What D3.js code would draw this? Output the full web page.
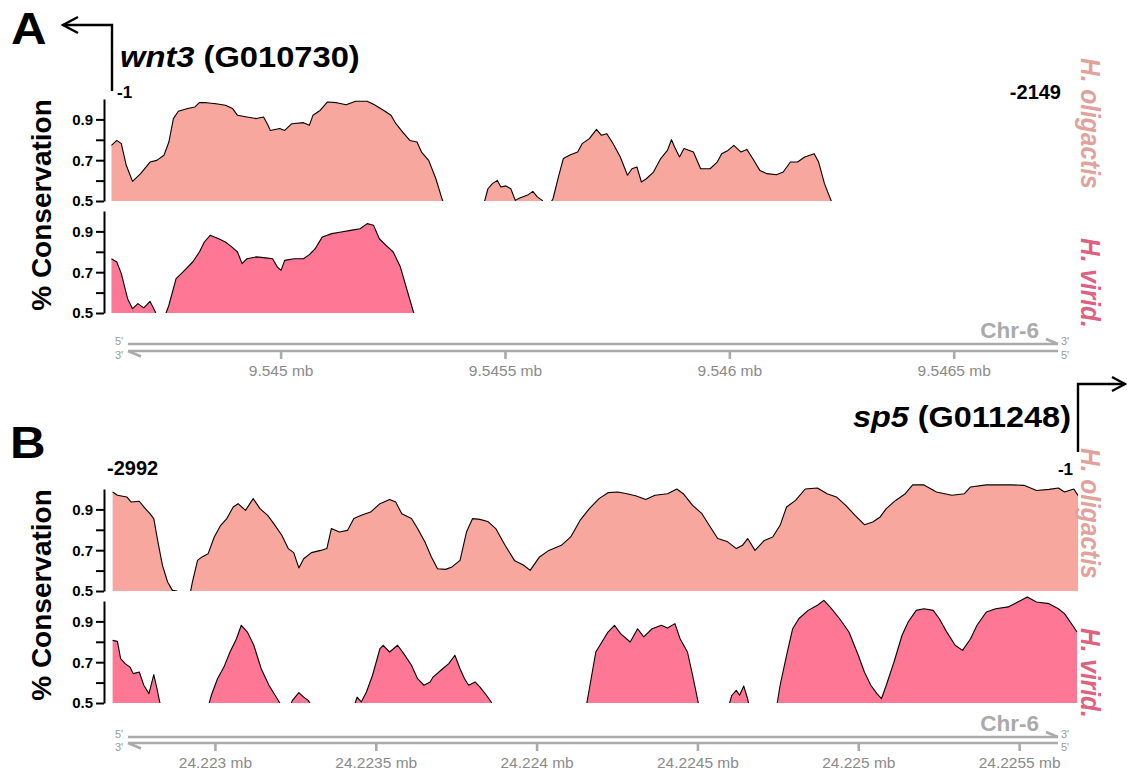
<!DOCTYPE html>
<html>
<head>
<meta charset="utf-8">
<script src="https://cdn.jsdelivr.net/npm/d3@7"></script>
<style>
  body { margin: 0; background: #fff; }
  svg { display: block; font-family: "Liberation Sans", Arial, Helvetica, sans-serif; }
</style>
</head>
<body>
<svg id="fig" width="1127" height="775"></svg>
<script>
// ---- wnt3 (G010730) window, Chr-6 (positions = bp offset from window start) ----
const wntWindowStart = 9544622;
const wntWindowSpan = 2155;
const wntTicks = [9545000, 9545500, 9546000, 9546500];
const wntTickLabels = ["9.545 mb", "9.5455 mb", "9.546 mb", "9.5465 mb"];

const wntOligPos = [1,13,23,34,48,66,87,102,118,129,139,150,171,187,197,213,234,255,271,282,303,324,340,350,355,376,387,403,429,442,450,466,482,503,524,545,571,587,608,624,635,650,666,682,692,708,724,737,743,829,840,850,861,869,880,891,901,911,930,940,950,961,966,977,985,998,1008,1024,1040,1050,1066,1082,1093,1105,1119,1135,1151,1161,1172,1182,1193,1209,1225,1240,1249,1256,1267,1277,1298,1314,1335,1351,1361,1375,1388,1404,1417,1430,1446,1462,1483,1498,1514,1530,1546,1567,1577,1590,1606,1609];
const wntOligVal = [0.773,0.797,0.781,0.675,0.596,0.634,0.691,0.699,0.724,0.789,0.904,0.94,0.953,0.961,0.982,0.982,0.977,0.969,0.953,0.92,0.912,0.904,0.912,0.871,0.846,0.855,0.846,0.879,0.884,0.871,0.92,0.944,0.985,0.982,0.972,0.989,0.989,0.972,0.944,0.92,0.879,0.838,0.797,0.789,0.74,0.699,0.609,0.515,0.479,0.47,0.56,0.585,0.601,0.569,0.574,0.56,0.503,0.515,0.531,0.547,0.52,0.503,0.48,0.48,0.511,0.626,0.708,0.727,0.74,0.781,0.806,0.851,0.822,0.83,0.781,0.716,0.626,0.658,0.667,0.593,0.609,0.642,0.708,0.748,0.80,0.765,0.716,0.757,0.74,0.658,0.658,0.691,0.732,0.748,0.773,0.74,0.753,0.708,0.65,0.634,0.629,0.642,0.691,0.691,0.716,0.732,0.691,0.585,0.495,0.47];

const wntViridPos = [1,13,23,37,48,60,73,87,97,102,121,129,145,160,182,197,208,221,240,255,269,282,292,303,324,345,360,371,379,387,408,429,442,455,471,492,513,534,555,571,585,598,613,629,645,661,674,678];
const wntViridVal = [0.766,0.75,0.693,0.57,0.521,0.546,0.525,0.557,0.513,0.49,0.49,0.538,0.668,0.70,0.75,0.799,0.848,0.881,0.864,0.848,0.824,0.799,0.742,0.766,0.775,0.77,0.766,0.725,0.709,0.758,0.766,0.766,0.786,0.815,0.873,0.889,0.897,0.905,0.913,0.938,0.93,0.864,0.832,0.799,0.725,0.603,0.505,0.48];

// ---- sp5 (G011248) window, Chr-6 ----
const sp5WindowStart = 24222677;
const sp5WindowSpan = 3006;
const sp5Ticks = [24223000, 24223500, 24224000, 24224500, 24225000, 24225500];
const sp5TickLabels = ["24.223 mb", "24.2235 mb", "24.224 mb", "24.2245 mb", "24.225 mb", "24.2255 mb"];

const sp5OligPos = [5,20,49,63,88,102,121,133,146,160,176,191,205,209,244,253,269,283,302,321,341,360,380,395,418,442,463,487,506,531,551,568,584,599,623,652,671,685,710,735,755,778,807,836,866,885,904,934,953,976,996,1015,1040,1060,1085,1105,1124,1147,1171,1196,1225,1254,1283,1303,1332,1361,1400,1429,1458,1487,1517,1545,1575,1604,1633,1662,1691,1730,1759,1779,1808,1837,1866,1886,1915,1944,1963,1979,2002,2031,2057,2080,2100,2128,2158,2196,2226,2255,2284,2313,2342,2368,2391,2410,2439,2469,2492,2527,2566,2614,2653,2672,2721,2799,2838,2877,2916,2945,2964,2993,3006];
const sp5OligVal = [0.985,0.969,0.961,0.936,0.94,0.912,0.879,0.855,0.74,0.626,0.544,0.503,0.50,0.47,0.47,0.544,0.65,0.667,0.683,0.765,0.822,0.855,0.912,0.928,0.895,0.953,0.904,0.871,0.83,0.773,0.708,0.688,0.613,0.658,0.688,0.699,0.708,0.806,0.789,0.797,0.855,0.871,0.887,0.928,0.949,0.936,0.879,0.855,0.806,0.74,0.667,0.609,0.606,0.618,0.65,0.789,0.855,0.851,0.841,0.806,0.724,0.65,0.626,0.601,0.667,0.699,0.724,0.765,0.846,0.904,0.953,0.982,0.985,0.977,0.966,0.949,0.969,0.977,1.00,0.977,0.92,0.879,0.806,0.757,0.743,0.708,0.724,0.757,0.699,0.748,0.765,0.822,0.912,0.944,1.00,1.005,0.977,0.961,0.92,0.871,0.825,0.838,0.863,0.904,0.944,0.977,1.02,1.02,0.985,0.969,0.977,1.01,1.02,1.02,1.018,0.993,0.998,1.005,0.985,1.00,0.969];

const sp5ViridPos = [5,20,30,44,59,69,88,102,118,133,143,152,156,302,312,331,351,370,390,405,424,444,467,491,510,525,532,555,564,584,599,613,623,755,765,778,794,813,836,846,866,891,910,934,953,973,992,1001,1031,1050,1069,1085,1099,1112,1132,1147,1167,1182,1186,1478,1487,1507,1526,1545,1565,1584,1614,1637,1656,1682,1711,1730,1753,1769,1792,1808,1823,1827,1921,1930,1944,1954,1967,1979,1983,2070,2080,2100,2119,2138,2167,2196,2216,2235,2265,2294,2323,2342,2362,2381,2395,2410,2434,2459,2478,2503,2527,2556,2575,2595,2624,2647,2672,2692,2721,2750,2789,2828,2848,2877,2916,2945,2964,2989,3003];
const sp5ViridVal = [0.807,0.802,0.717,0.693,0.676,0.644,0.652,0.587,0.546,0.639,0.57,0.50,0.48,0.48,0.538,0.619,0.676,0.75,0.815,0.881,0.848,0.783,0.668,0.587,0.538,0.50,0.48,0.48,0.513,0.551,0.529,0.513,0.489,0.48,0.529,0.505,0.554,0.636,0.766,0.783,0.75,0.783,0.742,0.685,0.619,0.587,0.603,0.627,0.668,0.693,0.734,0.668,0.619,0.587,0.603,0.578,0.538,0.505,0.489,0.489,0.57,0.75,0.799,0.848,0.881,0.84,0.799,0.864,0.824,0.864,0.881,0.868,0.889,0.815,0.75,0.636,0.521,0.489,0.489,0.538,0.562,0.538,0.583,0.521,0.489,0.489,0.587,0.734,0.864,0.913,0.954,0.979,1.003,0.971,0.913,0.848,0.734,0.652,0.587,0.546,0.521,0.587,0.701,0.832,0.897,0.954,0.962,0.954,0.913,0.856,0.783,0.758,0.815,0.881,0.946,0.962,0.971,1.003,1.02,0.995,0.987,0.962,0.938,0.881,0.848];

// ---- shared track axis ----
const yTicks = [0.5, 0.6, 0.7, 0.8, 0.9];
const yTickLabelled = [0.5, 0.7, 0.9];
const speciesNames = ["H. oligactis", "H. virid."];

// ---- styling ----
const oligFill = "#f7a79e", viridFill = "#fe7794";
const oligText = "#e2a19b", viridText = "#e0607f";
const chrGrey = "#aaaaaa", chrText = "#8a8a8a";

const svg = d3.select("#fig");
const X0 = 111, X1 = 1078;

function zip(pos, val) { return pos.map((p, i) => ({ p, v: val[i] })); }

function txt(g, str, x, y, size, o = {}) {
  let tr = `translate(${x},${y})`;
  if (o.rotate) tr += ` rotate(${o.rotate})`;
  if (o.sx || o.sy) tr += ` scale(${o.sx || 1},${o.sy || 1})`;
  return g.append("text")
    .attr("transform", tr)
    .attr("font-size", size)
    .attr("font-weight", o.weight || "bold")
    .attr("font-style", o.italic ? "italic" : "normal")
    .attr("fill", o.fill || "#000")
    .attr("text-anchor", o.anchor || "start")
    .text(str);
}

function drawPanel(cfg) {
  const g = svg.append("g");
  const x = d3.scaleLinear().domain([cfg.start, cfg.start + cfg.span]).range([X0, X1]);

  cfg.tracks.forEach((tr, ti) => {
    const y = d3.scaleLinear().domain([0.5, 1.0]).range(tr.yr);
    const data = zip(tr.pos, tr.val);
    const clipId = `clip-${cfg.id}-${ti}`;
    const top = Math.floor(y(1.06));
    g.append("clipPath").attr("id", clipId)
      .append("rect").attr("x", X0 - 1).attr("y", top)
      .attr("width", X1 - X0 + 2).attr("height", y(0.5) - top);

    const area = d3.area().x(d => x(cfg.start + d.p)).y0(y(0.5)).y1(d => y(d.v));
    const line = d3.line().x(d => x(cfg.start + d.p)).y(d => y(d.v));
    const tg = g.append("g").attr("clip-path", `url(#${clipId})`);
    tg.append("path").datum(data).attr("d", area).attr("fill", tr.fill);
    tg.append("path").datum(data).attr("d", line)
      .attr("fill", "none").attr("stroke", "#000").attr("stroke-width", 1.1)
      .attr("stroke-linejoin", "round");

    const ax = g.append("g").attr("transform", "translate(104,0)")
      .call(d3.axisLeft(y).tickValues(yTicks)
        .tickFormat(d => yTickLabelled.includes(d) ? d3.format(".1f")(d) : "")
        .tickSize(8).tickSizeOuter(0).tickPadding(3));
    ax.select(".domain").attr("stroke", "#000").attr("stroke-width", 2);
    ax.selectAll(".tick line").attr("stroke", "#000").attr("stroke-width", 2);
    ax.selectAll(".tick text").attr("fill", "#000").attr("font-size", 15)
      .attr("font-weight", "bold").attr("font-family", "Liberation Sans, Arial, sans-serif");

    // species name, rotated
    txt(g, speciesNames[ti], 1081, tr.nameY, 24.5,
      { rotate: 90, italic: true, fill: ti === 0 ? oligText : viridText, sy: 1.12 });
  });

  // y-axis title
  txt(g, "% Conservation", 51, cfg.titleY, 28, { rotate: -90, anchor: "middle" });

  // chromosome strands
  const c = cfg.chr;
  const sg = g.append("g").attr("stroke", chrGrey).attr("stroke-width", 2.6).attr("fill", "none");
  sg.append("line").attr("x1", 128).attr("x2", 1058).attr("y1", c.top).attr("y2", c.top);
  sg.append("line").attr("x1", 128).attr("x2", 1058).attr("y1", c.bot).attr("y2", c.bot);
  sg.append("path").attr("d", `M1058,${c.top} L1046,${c.top - 5}`);
  sg.append("path").attr("d", `M128,${c.bot} L141,${c.bot + 5.5}`);

  const bx = g.append("g").attr("transform", `translate(0,${c.bot})`)
    .call(d3.axisBottom(x).tickValues(cfg.ticks)
      .tickFormat((d, i) => cfg.tickLabels[i]).tickSize(8).tickPadding(6));
  bx.select(".domain").remove();
  bx.selectAll(".tick line").attr("stroke", chrGrey).attr("stroke-width", 2.6);
  bx.selectAll(".tick text").attr("fill", chrText).attr("font-size", 15.5)
    .attr("font-family", "Liberation Sans, Arial, sans-serif");

  const small = { weight: "normal", fill: "#999" };
  txt(g, "5'", 115, c.top + 1, 11, small);
  txt(g, "3'", 115, c.bot + 8, 11, small);
  txt(g, "3'", 1061, c.top + 1, 11, small);
  txt(g, "5'", 1061, c.bot + 8, 11, small);
  txt(g, "Chr-6", 1039, c.top - 6, 22.5, { anchor: "end", fill: chrGrey });
}

// panel A: wnt3
drawPanel({
  id: "a", start: wntWindowStart, span: wntWindowSpan,
  ticks: wntTicks, tickLabels: wntTickLabels,
  titleY: 205,
  chr: { top: 344, bot: 351 },
  tracks: [
    { pos: wntOligPos, val: wntOligVal, fill: oligFill, yr: [201, 99], nameY: 58 },
    { pos: wntViridPos, val: wntViridVal, fill: viridFill, yr: [313, 211], nameY: 238 }
  ]
});

// panel B: sp5
drawPanel({
  id: "b", start: sp5WindowStart, span: sp5WindowSpan,
  ticks: sp5Ticks, tickLabels: sp5TickLabels,
  titleY: 595,
  chr: { top: 737, bot: 743 },
  tracks: [
    { pos: sp5OligPos, val: sp5OligVal, fill: oligFill, yr: [591, 489], nameY: 448 },
    { pos: sp5ViridPos, val: sp5ViridVal, fill: viridFill, yr: [703, 601], nameY: 628 }
  ]
});

// headers: panel letters, gene names, TSS arrows, range ends
const h = svg.append("g");
txt(h, "A", 11, 44, 44, { sx: 1.12 });
txt(h, "B", 10, 458, 44, { sx: 1.12 });

const wnt = h.append("text").attr("transform", "translate(120,67) scale(1.09,1)")
  .attr("font-size", 30).attr("font-weight", "bold");
wnt.append("tspan").attr("font-style", "italic").text("wnt3");
wnt.append("tspan").text(" (G010730)");

const sp5 = h.append("text").attr("transform", "translate(853,427) scale(1.08,1)")
  .attr("font-size", 30).attr("font-weight", "bold");
sp5.append("tspan").attr("font-style", "italic").text("sp5");
sp5.append("tspan").text(" (G011248)");

const arr = h.append("g").attr("stroke", "#000").attr("stroke-width", 2.4).attr("fill", "none");
arr.append("path").attr("d", "M112,91 V25 H63");
arr.append("path").attr("d", "M78,17 L63,25 L78,33");
arr.append("path").attr("d", "M1078,452 V384 H1125");
arr.append("path").attr("d", "M1112,377 L1125,384 L1112,391");

txt(h, "-1", 117, 98, 17);
txt(h, "-2149", 1061, 99, 20, { anchor: "end" });
txt(h, "-2992", 107, 475, 20);
txt(h, "-1", 1073, 475, 17, { anchor: "end" });
</script>
</body>
</html>
